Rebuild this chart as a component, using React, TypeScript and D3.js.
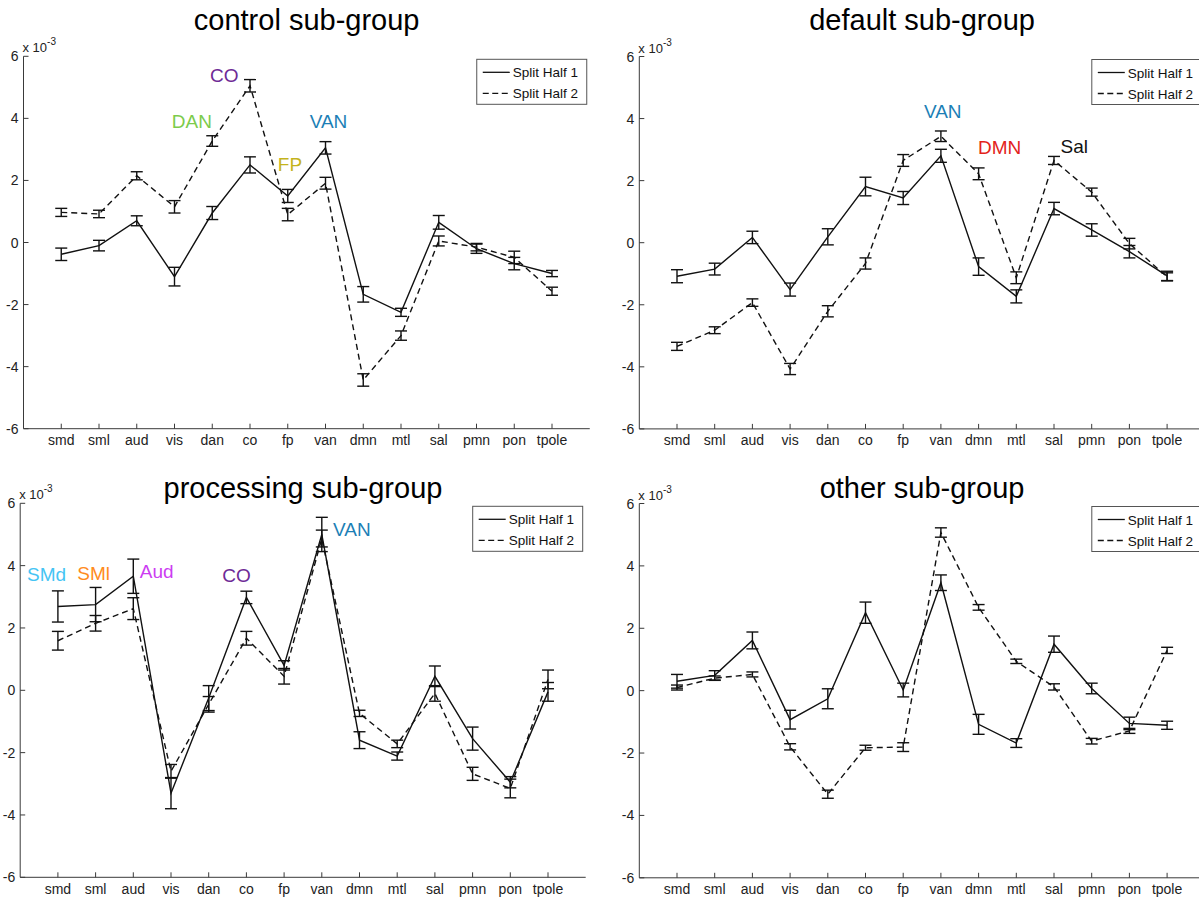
import React from "react";
import * as d3 from "d3";

// ---------- data ----------
const categories = ["smd", "sml", "aud", "vis", "dan", "co", "fp", "van", "dmn", "mtl", "sal", "pmn", "pon", "tpole"];
const yTicks = [-6, -4, -2, 0, 2, 4, 6];
const seriesNames = ["Split Half 1", "Split Half 2"];

const controlHalf1 = [-0.38, -0.1, 0.7, -1.1, 0.95, 2.5, 1.5, 3.05, -1.67, -2.25, 0.65, -0.2, -0.68, -1.0];
const controlHalf1Err = [0.2, 0.17, 0.16, 0.3, 0.21, 0.26, 0.21, 0.2, 0.25, 0.13, 0.22, 0.15, 0.2, 0.1];
const controlHalf2 = [0.97, 0.92, 2.15, 1.15, 3.27, 5.05, 0.9, 1.91, -4.43, -3.0, 0.05, -0.15, -0.48, -1.57];
const controlHalf2Err = [0.13, 0.12, 0.13, 0.2, 0.17, 0.2, 0.2, 0.19, 0.2, 0.15, 0.16, 0.12, 0.2, 0.13];

const defaultHalf1 = [-1.08, -0.85, 0.17, -1.51, 0.19, 1.81, 1.44, 2.8, -0.77, -1.73, 1.1, 0.41, -0.29, -1.07];
const defaultHalf1Err = [0.21, 0.19, 0.2, 0.21, 0.26, 0.3, 0.21, 0.21, 0.28, 0.21, 0.2, 0.2, 0.2, 0.15];
const defaultHalf2 = [-3.34, -2.82, -1.93, -4.07, -2.21, -0.67, 2.65, 3.43, 2.22, -1.13, 2.65, 1.63, -0.03, -1.1];
const defaultHalf2Err = [0.13, 0.11, 0.12, 0.18, 0.18, 0.18, 0.19, 0.17, 0.19, 0.19, 0.13, 0.13, 0.17, 0.13];

const processingHalf1 = [2.69, 2.75, 3.66, -3.3, -0.25, 2.98, 0.8, 5.0, -1.6, -2.11, 0.45, -1.55, -2.95, -0.05];
const processingHalf1Err = [0.5, 0.55, 0.55, 0.5, 0.4, 0.2, 0.15, 0.55, 0.27, 0.13, 0.33, 0.37, 0.18, 0.3];
const processingHalf2 = [1.59, 2.15, 2.62, -2.6, -0.45, 1.67, 0.45, 4.87, -0.74, -1.72, -0.1, -2.68, -3.15, 0.35];
const processingHalf2Err = [0.3, 0.25, 0.35, 0.22, 0.25, 0.22, 0.25, 0.27, 0.1, 0.12, 0.25, 0.21, 0.3, 0.3];

const otherHalf1 = [0.3, 0.49, 1.61, -0.93, -0.26, 2.5, 0.02, 3.46, -1.08, -1.68, 1.49, 0.07, -1.05, -1.11];
const otherHalf1Err = [0.22, 0.15, 0.27, 0.3, 0.32, 0.34, 0.22, 0.25, 0.32, 0.14, 0.26, 0.17, 0.2, 0.13];
const otherHalf2 = [0.1, 0.4, 0.52, -1.8, -3.32, -1.83, -1.81, 5.07, 2.67, 0.94, 0.12, -1.62, -1.29, 1.29];
const otherHalf2Err = [0.08, 0.07, 0.08, 0.1, 0.13, 0.08, 0.14, 0.15, 0.09, 0.07, 0.1, 0.09, 0.08, 0.1];

const titles = ["control sub-group", "default sub-group", "processing sub-group", "other sub-group"];

// annotations: [text, color, category position (1-based), baseline value]
const controlNotes: [string, string, number, number][] = [
  ["DAN", "#7ccb4c", 4.46, 3.68],
  ["CO", "#6e2a96", 5.32, 5.16],
  ["FP", "#c4b31c", 7.06, 2.32],
  ["VAN", "#1c7fb6", 8.08, 3.68],
];
const defaultNotes: [string, string, number, number][] = [
  ["VAN", "#1c7fb6", 8.05, 4.02],
  ["DMN", "#e3231b", 9.56, 2.86],
  ["Sal", "#111111", 11.54, 2.89],
];
const processingNotes: [string, string, number, number][] = [
  ["SMd", "#45c4f4", 0.7, 3.51],
  ["SMl", "#ff8b1d", 1.95, 3.54],
  ["Aud", "#cc3cf2", 3.62, 3.61],
  ["CO", "#6e2a96", 5.74, 3.48],
  ["VAN", "#1c7fb6", 8.8, 4.96],
];
const otherNotes: [string, string, number, number][] = [];

// ---------- layout ----------
const FONT = "'Liberation Sans', Arial, Helvetica, sans-serif";
const layouts = [
  { x0: 23.5, step: 37.75, top: 56.3, bottom: 428.7, titleY: 29.5 },
  { x0: 639.3, step: 37.7, top: 56.5, bottom: 428.9, titleY: 29.5 },
  { x0: 20.2, step: 37.7, top: 503.3, bottom: 877.3, titleY: 498 },
  { x0: 639.3, step: 37.7, top: 503.5, bottom: 877.8, titleY: 498 },
];

type PanelProps = {
  layout: { x0: number; step: number; top: number; bottom: number; titleY: number };
  title: string;
  h1: number[];
  e1: number[];
  h2: number[];
  e2: number[];
  notes: [string, string, number, number][];
};

function Panel({ layout, title, h1, e1, h2, e2, notes }: PanelProps) {
  const { x0, step, top, bottom, titleY } = layout;
  const x = d3.scaleLinear().domain([0, categories.length + 1]).range([x0, x0 + step * (categories.length + 1)]);
  const y = d3.scaleLinear().domain([-6, 6]).range([bottom, top]);
  const line = d3
    .line<number>()
    .x((_, i) => x(i + 1))
    .y((d) => y(d));
  const axisColor = "#3a3a3a";
  const xRight = x(categories.length + 1);
  const cap = 6;

  const series = [
    { vals: h1, errs: e1, dash: undefined as string | undefined },
    { vals: h2, errs: e2, dash: "6,4" },
  ];

  const legW = 110;
  const legH = 45;
  const legX = xRight - 3 - legW;
  const legY = top + 3;

  return (
    <g>
      <text x={(x0 + xRight) / 2} y={titleY} textAnchor="middle" fontSize={29} fontFamily={FONT} fill="#000">
        {title}
      </text>
      {/* exponent label */}
      <text x={x0 - 1} y={top - 4} fontSize={13} fontFamily={FONT} fill="#222">
        x 10
        <tspan dy={-7} fontSize={10}>
          -3
        </tspan>
      </text>
      {/* axes */}
      <line x1={x0} x2={x0} y1={top} y2={bottom} stroke={axisColor} strokeWidth={1} />
      <line x1={x0} x2={xRight} y1={bottom} y2={bottom} stroke={axisColor} strokeWidth={1} />
      {yTicks.map((t) => (
        <g key={"y" + t}>
          <line x1={x0} x2={x0 + 5} y1={y(t)} y2={y(t)} stroke={axisColor} />
          <text x={x0 - 5} y={y(t) + 5} textAnchor="end" fontSize={14} fontFamily={FONT} fill="#222">
            {t}
          </text>
        </g>
      ))}
      {categories.map((c, i) => (
        <g key={"x" + c}>
          <line x1={x(i + 1)} x2={x(i + 1)} y1={bottom} y2={bottom - 5} stroke={axisColor} />
          <text x={x(i + 1)} y={bottom + 16.5} textAnchor="middle" fontSize={14} fontFamily={FONT} fill="#222">
            {c}
          </text>
        </g>
      ))}
      {/* series */}
      {series.map((s, si) => (
        <g key={"s" + si}>
          <path d={line(s.vals) || ""} fill="none" stroke="#111" strokeWidth={1.4} strokeDasharray={s.dash} />
          {s.vals.map((v, i) => {
            const cx = x(i + 1);
            const yt = y(v + s.errs[i]);
            const yb = y(v - s.errs[i]);
            return (
              <g key={i} stroke="#111" strokeWidth={1.4}>
                <line x1={cx} x2={cx} y1={yt} y2={yb} />
                <line x1={cx - cap} x2={cx + cap} y1={yt} y2={yt} />
                <line x1={cx - cap} x2={cx + cap} y1={yb} y2={yb} />
              </g>
            );
          })}
        </g>
      ))}
      {/* annotations */}
      {notes.map(([t, col, cx, cy]) => (
        <text key={t} x={x(cx)} y={y(cy)} textAnchor="middle" fontSize={19} fontFamily={FONT} fill={col}>
          {t}
        </text>
      ))}
      {/* legend */}
      <rect x={legX} y={legY} width={legW} height={legH} fill="#fff" stroke="#555" strokeWidth={1} />
      {seriesNames.map((n, i) => {
        const ly = legY + 13 + i * 21;
        return (
          <g key={n}>
            <line
              x1={legX + 6}
              x2={legX + 33}
              y1={ly}
              y2={ly}
              stroke="#111"
              strokeWidth={1.3}
              strokeDasharray={i === 1 ? "6,3.5" : undefined}
            />
            <text x={legX + 36} y={ly + 5} fontSize={13.5} fontFamily={FONT} fill="#111">
              {n}
            </text>
          </g>
        );
      })}
    </g>
  );
}

export default function App() {
  const data = [
    [controlHalf1, controlHalf1Err, controlHalf2, controlHalf2Err, controlNotes],
    [defaultHalf1, defaultHalf1Err, defaultHalf2, defaultHalf2Err, defaultNotes],
    [processingHalf1, processingHalf1Err, processingHalf2, processingHalf2Err, processingNotes],
    [otherHalf1, otherHalf1Err, otherHalf2, otherHalf2Err, otherNotes],
  ] as any[];
  return (
    <svg
      width={1199}
      height={900}
      style={{ position: "absolute", left: 0, top: 0, background: "#fff", overflow: "hidden" }}
    >
      <rect x={0} y={0} width={1199} height={900} fill="#fff" />
      {layouts.map((l, i) => (
        <Panel
          key={titles[i]}
          layout={l}
          title={titles[i]}
          h1={data[i][0]}
          e1={data[i][1]}
          h2={data[i][2]}
          e2={data[i][3]}
          notes={data[i][4]}
        />
      ))}
    </svg>
  );
}
